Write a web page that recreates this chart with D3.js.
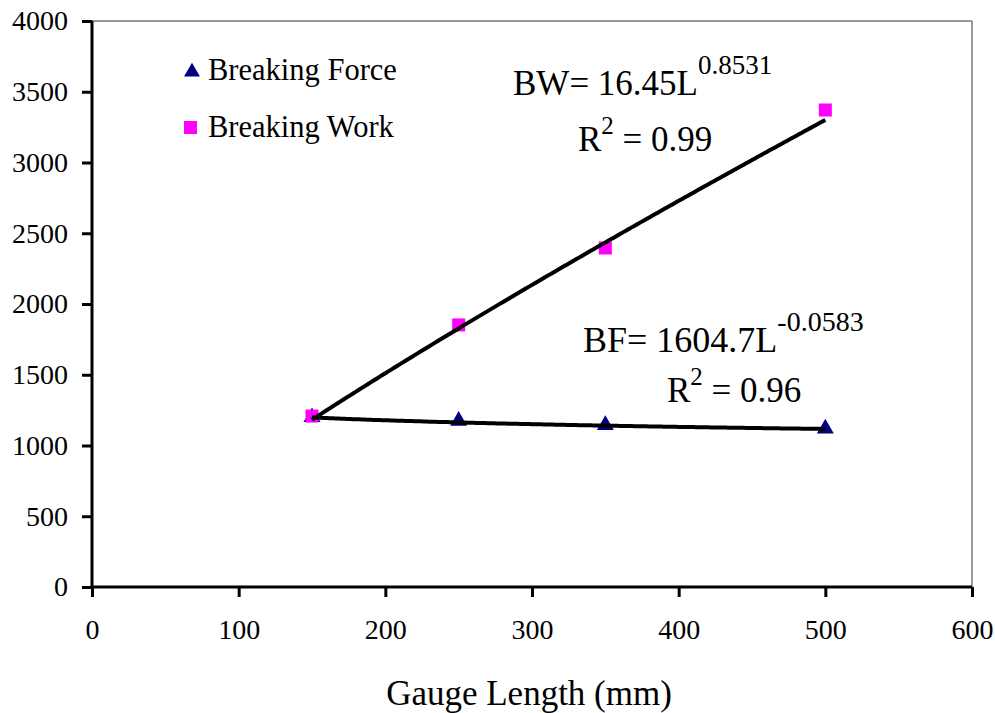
<!DOCTYPE html>
<html><head><meta charset="utf-8">
<script src="https://cdn.jsdelivr.net/npm/d3@7"></script>
<style>
body{margin:0;background:#fff;}
svg text{font-family:"Times New Roman","Liberation Serif",Times,"DejaVu Serif",serif !important;fill:#000;}
</style></head>
<body><svg id="c" width="995" height="713"></svg>
<script>
// Data
const gaugeLength = [150, 250, 350, 500];
const breakingForce = [1200, 1175, 1145, 1120];
const breakingWork = [1208, 1852, 2396, 3371];
const xTicks = [0, 100, 200, 300, 400, 500, 600];
const yTicks = [0, 500, 1000, 1500, 2000, 2500, 3000, 3500, 4000];
// Trendline (power) coefficients as shown on the chart
const bwCoef = [16.45, 0.8531];
const bfCoef = [1604.7, -0.0583];

const SERIF = '"Times New Roman","Liberation Serif",Times,serif';
const svg = d3.select("#c").style("font-family", SERIF);
const x = d3.scaleLinear().domain([0, 600]).range([92, 972]);
const y = d3.scaleLinear().domain([0, 4000]).range([587, 21]);

// frame (top & right gray)
svg.append("line").attr("x1", x(0)).attr("x2", x(600)).attr("y1", y(4000)).attr("y2", y(4000))
  .attr("stroke", "#999").attr("stroke-width", 2);
svg.append("line").attr("x1", x(600)).attr("x2", x(600)).attr("y1", y(0)).attr("y2", y(4000))
  .attr("stroke", "#999").attr("stroke-width", 2);

// axes
const xAxis = svg.append("g").attr("transform", `translate(0,${y(0)})`)
  .call(d3.axisBottom(x).tickValues(xTicks).tickSize(10).tickPadding(22).tickFormat(d3.format("d")));
const yAxis = svg.append("g").attr("transform", `translate(${x(0)},0)`)
  .call(d3.axisLeft(y).tickValues(yTicks).tickSize(10).tickPadding(14).tickFormat(d3.format("d")));
[xAxis, yAxis].forEach(g => {
  g.attr("font-family", SERIF).attr("font-size", 28);
  g.select(".domain").attr("stroke", "#000").attr("stroke-width", 3);
  g.selectAll(".tick line").attr("stroke", "#000").attr("stroke-width", 3);
  g.selectAll("text").style("font-size", "28px").style("font-family", SERIF).attr("fill", "#000");
});
xAxis.select(".domain").attr("d", `M${x(0)},0H${x(600)}`);
yAxis.select(".domain").attr("d", `M0,${y(0)}V${y(4000)}`);

// markers
const tri = d3.symbol().type(d3.symbolTriangle).size(125);
svg.append("g").selectAll("path").data(gaugeLength).join("path")
  .attr("d", tri).attr("fill", "#000080")
  .attr("transform", (d, i) => `translate(${x(d)},${y(breakingForce[i])})`);
svg.append("g").selectAll("rect").data(gaugeLength).join("rect")
  .attr("x", d => x(d) - 6.5).attr("y", (d, i) => y(breakingWork[i]) - 6.5)
  .attr("width", 13).attr("height", 13).attr("fill", "#FF00FF");

// trendlines
const xs = d3.range(gaugeLength[0], gaugeLength[gaugeLength.length - 1] + 0.1, 2);
const line = d3.line().x(d => x(d[0])).y(d => y(d[1]));
[bwCoef, bfCoef].forEach(c => {
  svg.append("path").datum(xs.map(v => [v, c[0] * Math.pow(v, c[1])]))
    .attr("d", line).attr("fill", "none").attr("stroke", "#000").attr("stroke-width", 4);
});

// legend
svg.append("path").attr("d", d3.symbol().type(d3.symbolTriangle).size(110)).attr("fill", "#000080")
  .attr("transform", "translate(192,72)");
svg.append("rect").attr("x", 184).attr("y", 121).attr("width", 13).attr("height", 13).attr("fill", "#FF00FF");
svg.append("text").attr("x", 208).attr("y", 80).style("font-size", "30.5px").text("Breaking Force");
svg.append("text").attr("x", 208).attr("y", 137).style("font-size", "30.5px").text("Breaking Work");

// equations
function eq(xp, yp, main, sup, fs, sfs) {
  const t = svg.append("text").attr("x", xp).attr("y", yp).style("font-size", fs + "px");
  t.append("tspan").text(main);
  t.append("tspan").attr("dy", -21).style("font-size", sfs + "px").text(sup);
  return t;
}
function r2(xp, yp, val) {
  const t = svg.append("text").attr("x", xp).attr("y", yp).style("font-size", "35px");
  t.append("tspan").text("R");
  t.append("tspan").attr("dy", -17).style("font-size", "25px").text("2");
  t.append("tspan").attr("dy", 17).text(" = " + val);
}
eq(513, 95, "BW= 16.45L", "0.8531", 35, 27);
r2(578, 151, "0.99");
eq(583, 352, "BF= 1604.7L", "-0.0583", 36, 28);
r2(667, 402, "0.96");

// axis title
svg.append("text").attr("x", (x(0) + x(600)) / 2 - 3).attr("y", 705).attr("text-anchor", "middle")
  .style("font-size", "35px").text("Gauge Length (mm)");
</script></body></html>
